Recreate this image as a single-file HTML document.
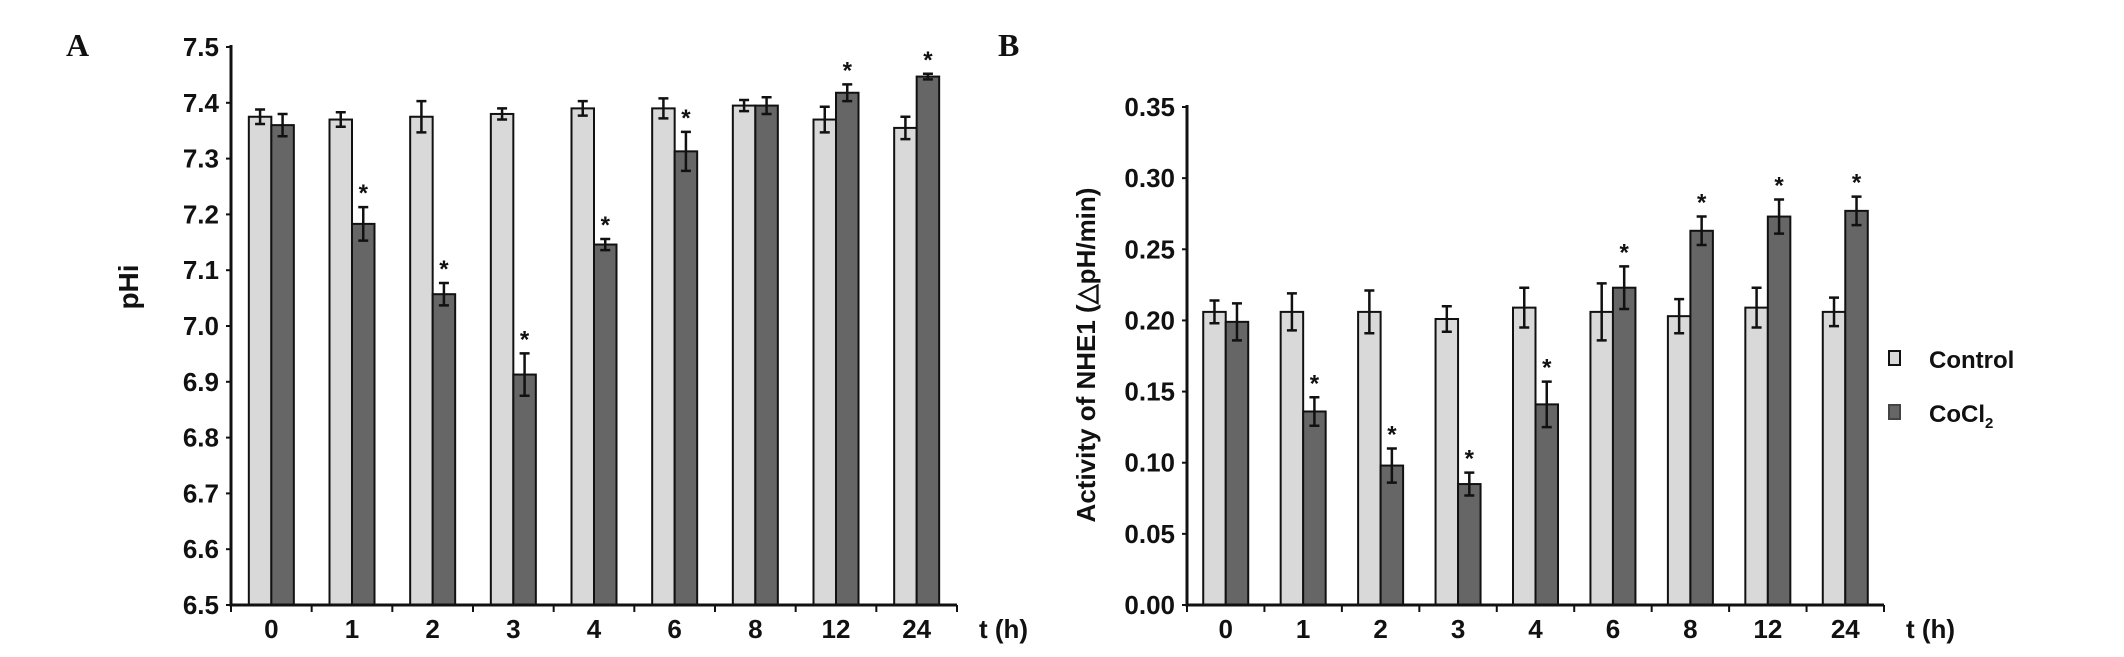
<!DOCTYPE html>
<html><head><meta charset="utf-8"><style>
html,body{margin:0;padding:0;background:#fff;}
svg{display:block;}
text{font-family:"Liberation Sans Narrow","Liberation Sans",sans-serif;font-weight:bold;fill:#111;}
</style></head><body>
<svg id="fig" width="2124" height="657" viewBox="0 0 2124 657" xmlns="http://www.w3.org/2000/svg"></svg>
<script>
const categories = ["0","1","2","3","4","6","8","12","24"];
const phControl = [7.375,7.37,7.375,7.38,7.39,7.39,7.395,7.37,7.355];
const phControlErr = [0.013,0.013,0.028,0.01,0.013,0.018,0.01,0.023,0.02];
const phCocl = [7.36,7.183,7.057,6.913,7.146,7.313,7.395,7.418,7.447];
const phCoclErr = [0.02,0.03,0.02,0.038,0.01,0.035,0.015,0.015,0.005];
const phStars = [false,true,true,true,true,true,false,true,true];
const phTicks = ["6.5","6.6","6.7","6.8","6.9","7.0","7.1","7.2","7.3","7.4","7.5"];
const nheControl = [0.206,0.206,0.206,0.201,0.209,0.206,0.203,0.209,0.206];
const nheControlErr = [0.008,0.013,0.015,0.009,0.014,0.02,0.012,0.014,0.01];
const nheCocl = [0.199,0.136,0.098,0.085,0.141,0.223,0.263,0.273,0.277];
const nheCoclErr = [0.013,0.01,0.012,0.008,0.016,0.015,0.01,0.012,0.01];
const nheStars = [false,true,true,true,true,true,true,true,true];
const nheTicks = ["0.00","0.05","0.10","0.15","0.20","0.25","0.30","0.35"];

const NS="http://www.w3.org/2000/svg";
const svg=document.getElementById('fig');
function mk(tag,attrs,parent){const e=document.createElementNS(NS,tag);for(const k in attrs)e.setAttribute(k,attrs[k]);(parent||svg).appendChild(e);return e;}

function panel(cfg){
  const g=mk('g',{});
  
  
  const {x0,x1,yTop,yBot,min,max}=cfg;
  const y=v=>yBot-(v-min)/(max-min)*(yBot-yTop);
  const cw=(x1-x0)/categories.length;
  const xc=i=>x0+cw*(i+0.5);
  const bw=22.5;
  for(let i=0;i<categories.length;i++){
    [[cfg.ctrl,cfg.ctrlErr,'#d9d9d9',-bw,'control'],[cfg.co,cfg.coErr,'#666666',0,'cocl2']].forEach(([vals,errs,col,off,nm])=>{
      const v=vals[i],top=y(v);
      const r=mk('rect',{x:xc(i)+off,y:top,width:bw,height:yBot-top,fill:col,stroke:'#111','stroke-width':2},g);
      
      
      const cx=xc(i)+off+bw/2, hi=y(v+errs[i]), lo=y(v-errs[i]);
      const eb=mk('path',{d:`M${cx},${hi}V${lo}M${cx-5},${hi}H${cx+5}M${cx-5},${lo}H${cx+5}`,stroke:'#111','stroke-width':2.5,fill:'none'},g);
      
      
      if(nm==='cocl2'&&cfg.stars[i]){
        const s=mk('text',{x:cx,y:hi-6,'text-anchor':'middle','font-size':24},g);
        s.textContent='*';
        
        
      }
    });
  }
  const ax=mk('path',{d:`M${x0},${yTop-2}V${yBot}H${x1}`,stroke:'#111','stroke-width':3,fill:'none'},g);
  
  
  cfg.ticks.forEach(t=>{
    const ty=y(parseFloat(t));
    mk('line',{x1:x0-5,x2:x0,y1:ty,y2:ty,stroke:'#111','stroke-width':2},g);
    const tl=mk('text',{x:x0-12,y:ty+9,'text-anchor':'end','font-size':26},g);
    tl.textContent=t;
    
    
  });
  for(let i=0;i<=categories.length;i++){
    const tx=x0+cw*i;
    mk('line',{x1:tx,x2:tx,y1:yBot,y2:yBot+7,stroke:'#111','stroke-width':2},g);
  }
  categories.forEach((c,i)=>{
    const tl=mk('text',{x:xc(i),y:yBot+33,'text-anchor':'middle','font-size':26},g);
    tl.textContent=c;
    
    
  });
  const xt=mk('text',{x:x1+22,y:yBot+33,'font-size':26},g);
  xt.textContent='t (h)';
  
  
  const yt=mk('text',{x:0,y:0,'text-anchor':'middle','font-size':cfg.ytSize,transform:`translate(${cfg.ytX},${cfg.ytY}) rotate(-90)`,style:'font-family:"Liberation Sans",sans-serif'},g);
  yt.textContent=cfg.yTitle;
  
  
  const pl=mk('text',{x:cfg.lx,y:56,'font-size':32,style:'font-family:"Liberation Serif",serif'},g);
  pl.textContent=cfg.letter;
  
  
}

panel({name:'panel-a-phi-chart',x0:231,x1:957,yTop:47,yBot:605,min:6.5,max:7.5,ctrl:phControl,ctrlErr:phControlErr,co:phCocl,coErr:phCoclErr,stars:phStars,ticks:phTicks,yTitle:'pHi',ytX:138,ytY:287,ytSize:28,letter:'A',lx:66});
panel({name:'panel-b-nhe1-chart',x0:1187,x1:1884,yTop:107,yBot:605,min:0,max:0.35,ctrl:nheControl,ctrlErr:nheControlErr,co:nheCocl,coErr:nheCoclErr,stars:nheStars,ticks:nheTicks,yTitle:'Activity of NHE1 (\u25B3pH/min)',ytX:1095,ytY:355,ytSize:26,letter:'B',lx:998});

const lg=mk('g',{});


[['Control','#d9d9d9',359],['CoCl','#666666',413]].forEach(([lab,col,ly],k)=>{
  const r=mk('rect',{x:1889,y:ly-8,width:11,height:14,fill:col,stroke:k===0?'#111':'#444','stroke-width':2},lg);
  
  
  const t=mk('text',{x:1929,y:ly+9,'font-size':24},lg);
  t.textContent=lab;
  if(k===1){const s=mk('tspan',{'font-size':15,dy:6},t);s.textContent='2';}
  
  
});
</script>
</body></html>
